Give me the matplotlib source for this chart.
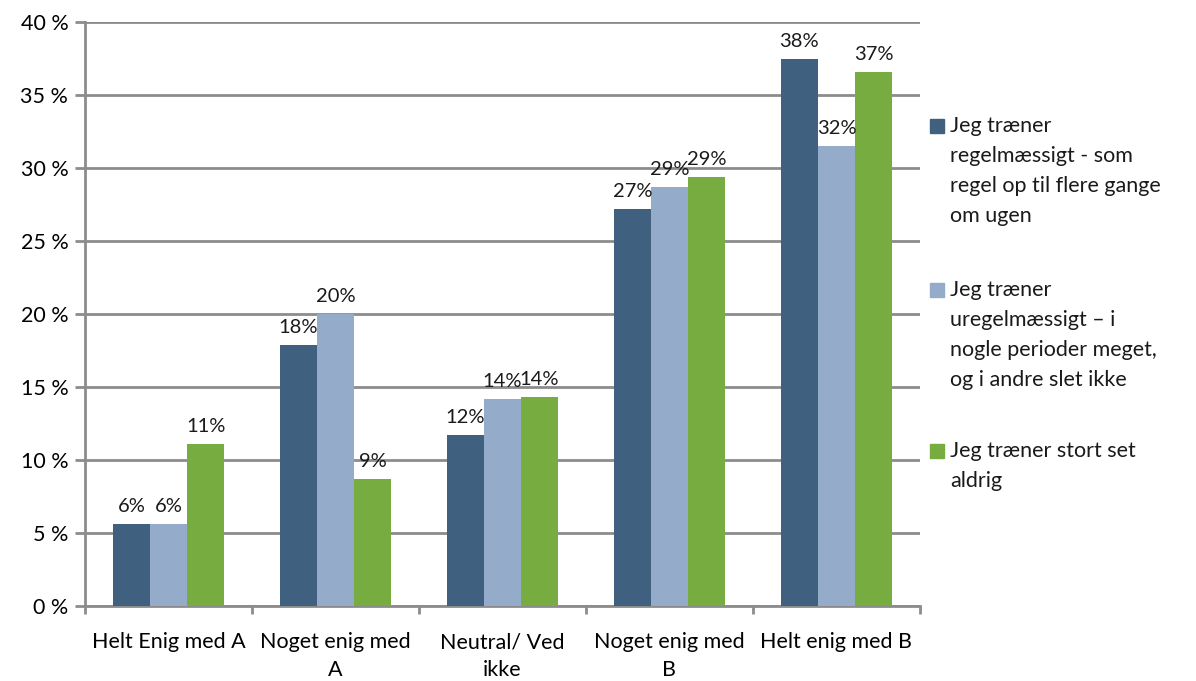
import numpy as np
import matplotlib.pyplot as plt
from matplotlib.patches import Rectangle

plt.rcParams['font.family'] = ['Lato', 'DejaVu Sans']

categories = ["Helt Enig med A", "Noget enig med\nA", "Neutral/ Ved\nikke",
              "Noget enig med\nB", "Helt enig med B"]
regular = [5.6, 17.9, 11.7, 27.2, 37.5]
irregular = [5.6, 20.0, 14.2, 28.7, 31.5]
never = [11.1, 8.7, 14.3, 29.4, 36.6]
series_names = ["Jeg træner\nregelmæssigt - som\nregel op til flere gange\nom ugen",
                "Jeg træner\nuregelmæssigt \u2013 i\nnogle perioder meget,\nog i andre slet ikke",
                "Jeg træner stort set\naldrig"]
colors = ["#3F617F", "#94ACC9", "#77AD40"]

fig = plt.figure(figsize=(11.96, 6.81), dpi=100)
ax = fig.add_axes([85/1196, 75/681, 835/1196, 584/681])

x = np.arange(len(categories))
w = 0.222
grid_c = "#8C8C8C"
for i, vals in enumerate([regular, irregular, never]):
    pos = x + (i - 1) * w
    ax.bar(pos, vals, width=w, color=colors[i], zorder=3)
    for p, v in zip(pos, vals):
        ax.text(p, v + 0.6, "%d%%" % int(v + 0.5), ha='center', va='bottom',
                fontsize=14.5, color='#1a1a1a', zorder=4)

ax.set_xlim(-0.5, len(categories) - 0.5)
ax.set_ylim(0, 40)
ax.set_yticks(range(0, 41, 5))
ax.set_yticklabels(["%d %%" % t for t in range(0, 41, 5)], fontsize=15.5)
ax.yaxis.grid(True, color=grid_c, linewidth=2, zorder=0)
ax.tick_params(axis='y', length=7, width=2, color=grid_c, pad=5)

ax.set_xticks(x)
ax.set_xticklabels(categories, fontsize=15.5, linespacing=1.5)
ax.set_xticks(np.arange(-0.5, len(categories)), minor=True)
ax.tick_params(axis='x', which='major', length=0, pad=19)
ax.tick_params(axis='x', which='minor', length=6, width=2, color=grid_c)

for s in ['top', 'right']:
    ax.spines[s].set_visible(False)
for s in ['left', 'bottom']:
    ax.spines[s].set_color(grid_c)
    ax.spines[s].set_linewidth(2)

# legend drawn manually so the marker sits on the first line
ytops = [116, 280, 441]
for name, c, yt in zip(series_names, colors, ytops):
    fig.patches.append(Rectangle((930/1196, 1 - (yt + 17)/681), 14/1196, 14/681,
                                 transform=fig.transFigure, color=c))
    fig.text(950/1196, 1 - yt/681, name, fontsize=15.5, va='top', ha='left',
             linespacing=1.62, color='#1a1a1a')

fig.savefig("out.png", dpi=100)
